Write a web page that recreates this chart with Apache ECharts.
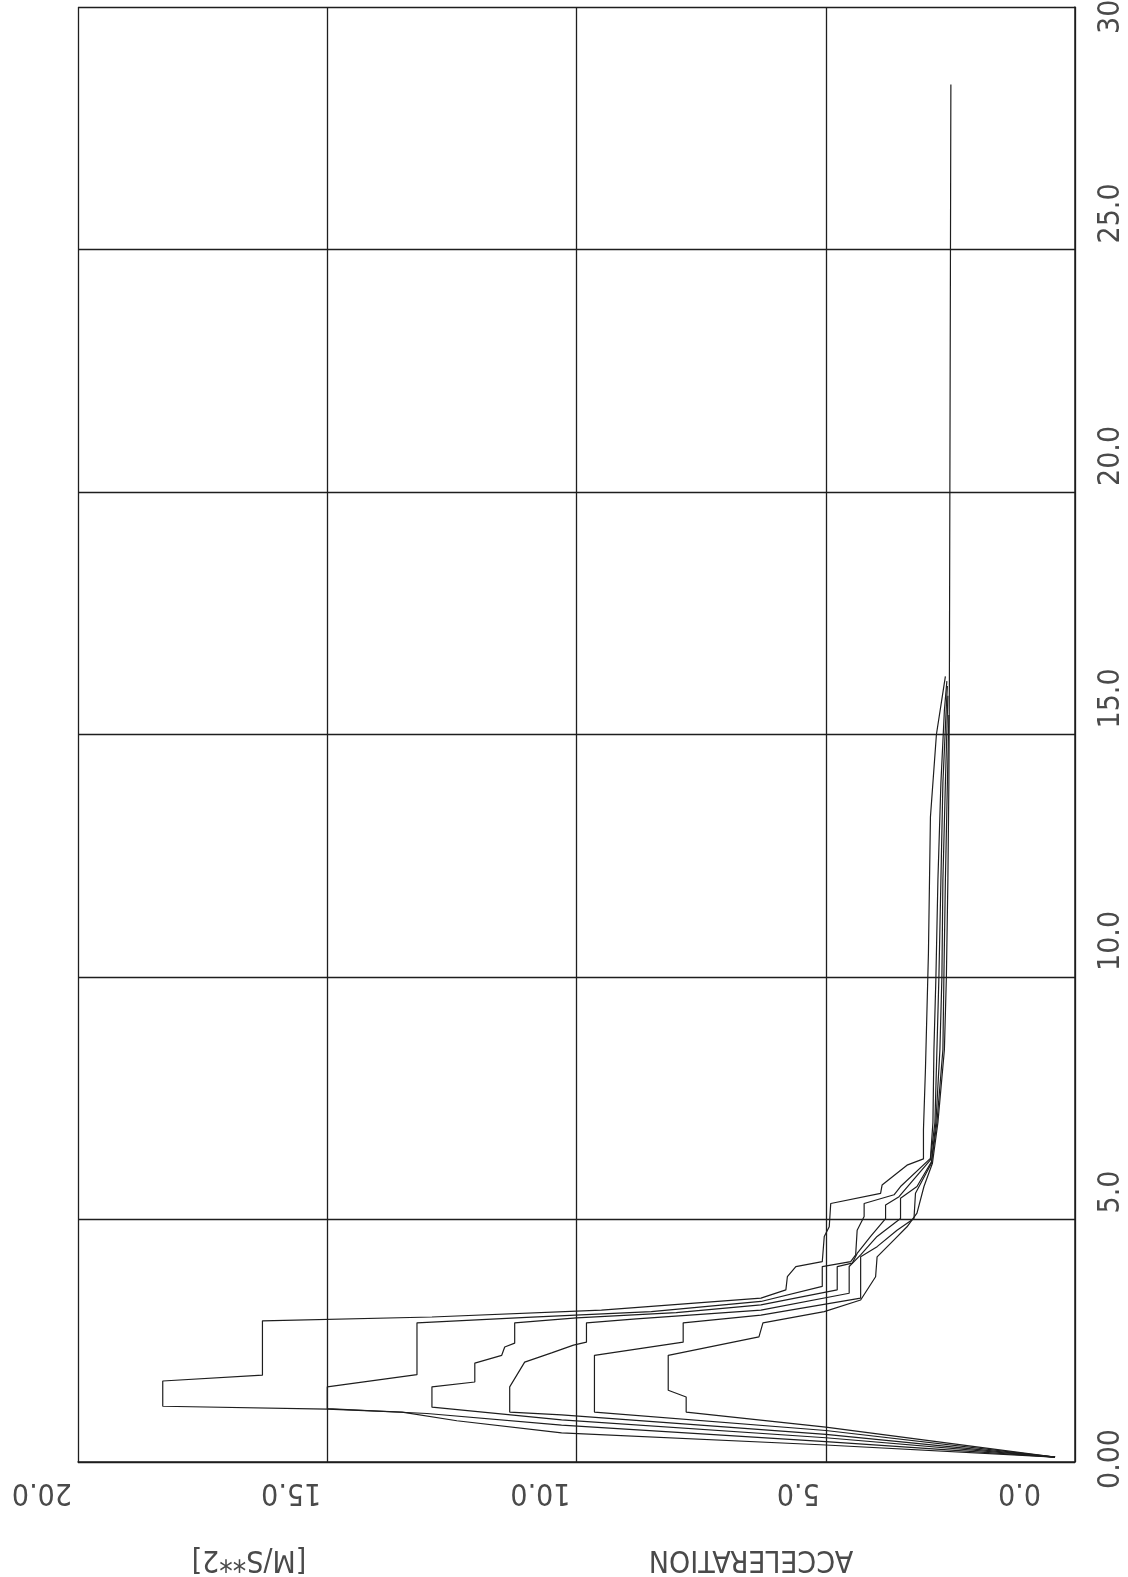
<!DOCTYPE html>
<html><head><meta charset="utf-8">
<script src="https://cdn.jsdelivr.net/npm/echarts@6/dist/echarts.min.js"></script>
<style>html,body{margin:0;padding:0;background:#fff}#c{width:1128px;height:1577px}</style>
</head><body><div id="c"></div>
<script>
// tick labels
const timeLabels = ['0.00', '5.0', '10.0', '15.0', '20.0', '25.0', '30.0'];
const accelLabels = ['0.0', '5.0', '10.0', '15.0', '20.0'];
const axisNameMain = 'ACCELERATION';
const axisNameUnit = '[M/S**2]';

// each run: [time, acceleration]
const runA = [[0.10,0.4],[0.35,5.0],[0.60,10.3],[0.85,12.4],[1.03,13.5],[1.09,15.0],[1.15,18.3],[1.67,18.3],[1.79,16.3],[2.91,16.3],[2.99,12.9],[3.13,9.5],[3.38,6.3],[3.55,5.8],[3.82,5.77],[4.03,5.6],[4.13,5.07],[4.65,5.03],[4.85,4.93],[5.33,4.9],[5.54,3.9],[5.71,3.87],[6.12,3.37],[6.25,3.04],[6.85,3.04],[8.1,3.0],[10.5,2.94],[13.3,2.9],[15.0,2.78],[16.2,2.6]];
const runB = [[0.10,0.4],[0.42,5.0],[0.76,10.3],[1.00,13.0],[1.10,15.0],[1.55,15.0],[1.80,13.2],[2.87,13.2],[2.98,11.0],[3.10,8.5],[3.31,6.3],[3.62,5.07],[4.03,5.07],[4.13,4.5],[4.27,4.4],[4.78,4.37],[5.06,4.23],[5.33,4.23],[5.51,3.63],[5.68,3.5],[6.26,2.9],[7.0,2.85],[8.5,2.83],[10.0,2.79],[12.0,2.75],[14.0,2.69],[15.5,2.62],[16.1,2.57]];
const runC = [[0.10,0.4],[0.50,5.0],[0.87,10.3],[1.13,12.9],[1.55,12.9],[1.65,12.04],[2.04,12.04],[2.20,11.5],[2.37,11.44],[2.45,11.24],[2.87,11.24],[2.97,10.0],[3.08,8.0],[3.24,6.3],[3.55,4.77],[4.03,4.77],[4.10,4.47],[4.30,4.37],[4.65,4.1],[5.02,3.8],[5.30,3.8],[5.47,3.53],[6.23,2.9],[7.0,2.81],[8.5,2.77],[10.0,2.73],[12.0,2.69],[14.0,2.65],[15.6,2.58],[16.0,2.56]];
const runD = [[0.10,0.4],[0.57,5.0],[0.97,10.3],[1.03,11.34],[1.55,11.34],[2.06,11.04],[2.25,10.5],[2.41,10.06],[2.47,9.8],[2.87,9.8],[2.95,8.8],[3.13,6.3],[3.48,4.53],[4.03,4.53],[4.27,4.3],[4.65,3.97],[5.02,3.5],[5.44,3.5],[5.68,3.17],[6.19,2.88],[7.0,2.79],[8.5,2.71],[10.0,2.67],[12.0,2.65],[14.0,2.6],[15.8,2.55]];
const runE = [[0.10,0.4],[0.65,5.0],[1.03,9.64],[2.20,9.64],[2.47,7.86],[2.87,7.86],[3.03,6.3],[3.38,4.3],[4.23,4.3],[4.44,3.97],[4.78,3.57],[5.02,3.23],[5.54,3.2],[6.16,2.88],[7.0,2.77],[8.5,2.65],[10.0,2.63],[12.0,2.6],[14.0,2.56],[15.4,2.53]];
const runF = [[0.10,0.4],[0.72,5.0],[1.03,7.8],[1.34,7.8],[1.48,8.16],[2.20,8.16],[2.58,6.34],[2.87,6.26],[3.10,5.03],[3.34,4.3],[3.82,4.0],[4.23,3.97],[4.58,3.63],[4.85,3.37],[5.13,3.17],[5.68,3.03],[6.16,2.86],[7.0,2.75],[8.5,2.62],[10.0,2.58],[12.0,2.55],[14.0,2.53],[16.0,2.52],[28.4,2.49]];

const runs = [runA, runB, runC, runD, runE, runF];

const FONT = "'Liberation Sans Narrow','DejaVu Sans Condensed','DejaVu Sans',sans-serif";
const FS = 30;
const TXT = '#4a4a4a';
const LINE = '#1e1e1e';

const chart = echarts.init(document.getElementById('c'), null, {renderer: 'canvas'});
chart.setOption({
  animation: false,
  backgroundColor: '#ffffff',
  grid: {left: 78, right: 53, top: 7, bottom: 115, outerBoundsMode: 'none', containLabel: false},
  xAxis: {
    type: 'value', min: 0, max: 20, interval: 5, inverse: true, position: 'bottom',
    axisLine: {show: true, onZero: false, lineStyle: {color: LINE, width: 1.5}},
    axisTick: {show: false},
    splitLine: {show: true, lineStyle: {color: LINE, width: 1.3}},
    axisLabel: {
      rotate: 180, align: 'left', verticalAlign: 'bottom', margin: 15,
      hideOverlap: false,
      formatter: function (v) {
        const s = accelLabels[Math.round(v / 5)];
        return (v === 0 ? '{m|' : '{n|') + s + '}';
      },
      rich: {
        n: {padding: [0, 0, 0, 6], fontSize: FS, fontFamily: FONT, color: TXT},
        m: {padding: [0, 0, 0, 34], fontSize: FS, fontFamily: FONT, color: TXT}
      }
    }
  },
  yAxis: {
    type: 'value', min: 0, max: 30, interval: 5, position: 'right',
    axisLine: {show: true, onZero: false, lineStyle: {color: LINE, width: 1.5}},
    axisTick: {show: false},
    splitLine: {show: true, lineStyle: {color: LINE, width: 1.3}},
    axisLabel: {
      rotate: 90, align: 'left', verticalAlign: 'top', margin: 21,
      alignMinLabel: 'center', alignMaxLabel: 'center',
      showMinLabel: true, showMaxLabel: true, hideOverlap: false,
      formatter: function (v) { return '{n|' + timeLabels[Math.round(v / 5)] + '}'; },
      rich: {
        n: {padding: [0, 0, 0, 6], fontSize: FS, fontFamily: FONT, color: TXT}
      }
    }
  },
  graphic: [
    {type: 'text', x: 751, y: 1559, rotation: Math.PI,
      style: {text: axisNameMain, fontSize: FS, fontFamily: FONT, fill: TXT, align: 'center', verticalAlign: 'middle'}},
    {type: 'text', x: 249, y: 1559, rotation: Math.PI,
      style: {text: axisNameUnit, fontSize: FS, fontFamily: FONT, fill: TXT, align: 'center', verticalAlign: 'middle'}}
  ],
  series: runs.map(function (r) {
    return {
      type: 'line', symbol: 'none', showSymbol: false, clip: true,
      data: r.map(function (p) { return [p[1], p[0]]; }),
      lineStyle: {color: LINE, width: 1.2}
    };
  })
});
</script></body></html>
